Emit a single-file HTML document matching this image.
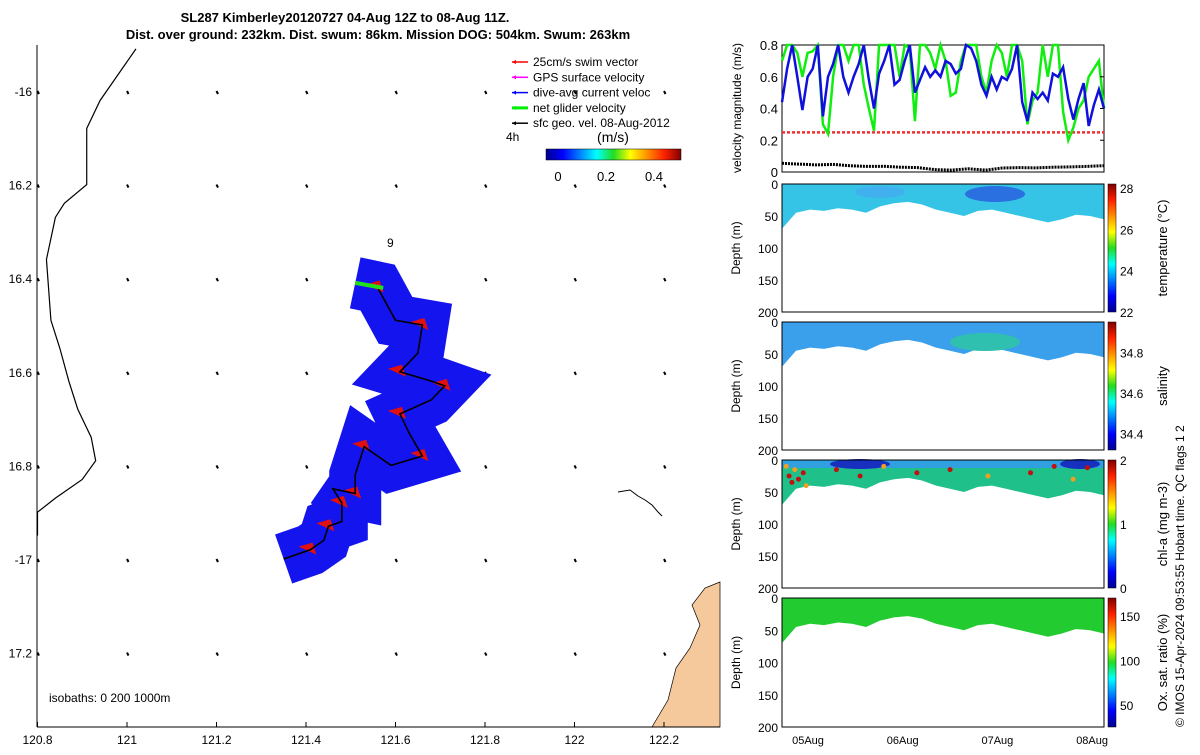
<!DOCTYPE html>
<html><head><meta charset="utf-8"><style>
body{margin:0;background:#fff;font-family:"Liberation Sans",sans-serif;}
svg text{font-family:"Liberation Sans",sans-serif;}
</style></head><body>
<svg id="c" width="1200" height="750" xmlns="http://www.w3.org/2000/svg">
<defs>
<linearGradient id="jetH" x1="0" x2="1" y1="0" y2="0"><stop offset="0" stop-color="#00008f"/><stop offset="0.125" stop-color="#0000ff"/><stop offset="0.375" stop-color="#00ffff"/><stop offset="0.5" stop-color="#22dd22"/><stop offset="0.625" stop-color="#ffff00"/><stop offset="0.875" stop-color="#ff2000"/><stop offset="1" stop-color="#800000"/></linearGradient>
<linearGradient id="jetV" x1="0" x2="0" y1="1" y2="0"><stop offset="0" stop-color="#00008f"/><stop offset="0.125" stop-color="#0000ff"/><stop offset="0.375" stop-color="#00ffff"/><stop offset="0.5" stop-color="#22dd22"/><stop offset="0.625" stop-color="#ffff00"/><stop offset="0.875" stop-color="#ff2000"/><stop offset="1" stop-color="#800000"/></linearGradient>
</defs>
<text x="345" y="22" text-anchor="middle" font-size="13" font-weight="bold">SL287 Kimberley20120727 04-Aug 12Z to 08-Aug 11Z.</text>
<text x="378" y="39" text-anchor="middle" font-size="13" font-weight="bold">Dist. over ground: 232km. Dist. swum: 86km. Mission DOG: 504km. Swum: 263km</text>
<g id="map"></g>
<g id="right"></g>
<text transform="translate(1184,727) rotate(-90)" font-size="12">© IMOS 15-Apr-2024 09:53:55 Hobart time. QC flags 1  2</text>
</svg>
<script>
// ---------- data ----------
const lonTicks=[120.8,121,121.2,121.4,121.6,121.8,122,122.2];
const latTicks=[-16,-16.2,-16.4,-16.6,-16.8,-17,-17.2];
const trackLon=[121.51,121.56,121.60,121.66,121.65,121.61,121.68,121.71,121.68,121.61,121.63,121.66,121.59,121.53,121.51,121.51,121.46,121.48,121.48,121.45,121.44,121.41,121.35];
const trackLat=[-16.41,-16.42,-16.49,-16.50,-16.56,-16.60,-16.62,-16.63,-16.66,-16.69,-16.73,-16.78,-16.80,-16.76,-16.82,-16.86,-16.85,-16.88,-16.92,-16.93,-16.96,-16.98,-17.00];
const coastLon=[121.02,120.94,120.91,120.91,120.86,120.84,120.82,120.83,120.85,120.87,120.89,120.92,120.93,120.90,120.84,120.80,120.80];
const coastLat=[-15.91,-16.02,-16.08,-16.20,-16.24,-16.27,-16.36,-16.49,-16.55,-16.62,-16.68,-16.74,-16.79,-16.83,-16.87,-16.90,-16.95];
const days=[5,6,7,8];
const dayLabels=["05Aug","06Aug","07Aug","08Aug"];
const velBlue=[0.44,0.65,0.8,0.6,0.39,0.6,0.65,0.8,0.35,0.6,0.68,0.8,0.6,0.5,0.6,0.68,0.8,0.58,0.4,0.62,0.7,0.8,0.55,0.58,0.7,0.8,0.5,0.58,0.66,0.6,0.64,0.6,0.7,0.68,0.62,0.65,0.8,0.78,0.7,0.55,0.48,0.6,0.52,0.6,0.58,0.65,0.8,0.44,0.32,0.5,0.46,0.5,0.45,0.62,0.6,0.66,0.46,0.33,0.46,0.56,0.29,0.42,0.52,0.4];
const velGreen=[0.7,0.8,0.8,0.75,0.6,0.75,0.76,0.8,0.3,0.24,0.6,0.8,0.8,0.7,0.8,0.8,0.55,0.4,0.26,0.8,0.8,0.8,0.8,0.6,0.8,0.78,0.32,0.8,0.8,0.75,0.65,0.8,0.7,0.48,0.5,0.7,0.8,0.8,0.8,0.6,0.5,0.7,0.8,0.75,0.6,0.8,0.8,0.7,0.3,0.45,0.5,0.8,0.6,0.8,0.8,0.38,0.2,0.28,0.4,0.45,0.6,0.65,0.7,0.4];
const velGeo=[0.055,0.05,0.045,0.048,0.04,0.035,0.036,0.03,0.028,0.015,0.012,0.02,0.012,0.025,0.028,0.026,0.03,0.032,0.035,0.04];
const swimSpeed=0.25;
const mldDepth=[70,45,40,42,38,40,45,35,30,28,32,40,45,50,42,40,45,50,55,60,55,48,50,55];
const panelVars=["temperature (°C)","salinity","chl-a (mg m-3)","Ox. sat. ratio (%)"];
const cbTicks=[[22,24,26,28],[34.4,34.6,34.8],[0,1,2],[50,100,150]];
const cbRange=[[22,28.2],[34.32,34.95],[0,2],[25,170]];
const chlDotT=[4.77,4.8,4.83,4.86,4.9,4.95,4.98,5.3,5.55,5.8,6.15,6.5,6.9,7.35,7.6,7.8,7.95];
const chlDotD=[10,25,35,15,30,20,40,15,25,10,20,15,25,20,10,30,12];
// ---------- helpers ----------
const NS="http://www.w3.org/2000/svg";
function mk(p,tag,a,txt){const e=document.createElementNS(NS,tag);for(const k in a)e.setAttribute(k,a[k]);if(txt!==undefined)e.textContent=txt;p.appendChild(e);return e;}
const mx=lon=>127+(lon-121)*447.5, my=lat=>91-(lat+16)*468;
const map=document.getElementById('map'), R=document.getElementById('right');
let land=mk(map,'path',{d:'M720,582 L705,588 L692,605 L700,625 L690,648 L676,668 L668,700 L652,727 L720,727 Z',fill:'#f5c99b',stroke:'#000','stroke-width':0.7});


mk(map,'path',{d:'M618,492 L630,490 L638,496 L645,500 L652,505 L658,512 L662,516',fill:'none',stroke:'#000','stroke-width':1});
let cp=coastLon.map((v,i)=>(i?'L':'M')+mx(v)+','+my(coastLat[i])).join(' ');
let coast=mk(map,'path',{d:cp,fill:'none',stroke:'#000','stroke-width':1.2});


lonTicks.forEach(lo=>latTicks.forEach(la=>{let d=mk(map,'path',{d:`M${mx(lo)},${my(la)} l1.5,3`,stroke:'#000','stroke-width':2});}));
let tp=trackLon.map((v,i)=>(i?'L':'M')+mx(v)+','+my(trackLat[i])).join(' ');
let fan=mk(map,'path',{d:tp,fill:'none',stroke:'#1414ee','stroke-width':52,'stroke-linejoin':'miter','stroke-miterlimit':2});


trackLon.forEach((v,i)=>{if(i%2==1){let r=mk(map,'path',{d:`M${mx(v)-12},${my(trackLat[i])-3} l18,8 l-4,-12 z`,fill:'#e01010'});}});
let trk=mk(map,'path',{d:tp,fill:'none',stroke:'#000','stroke-width':1.6});


let gs=mk(map,'path',{d:`M${mx(trackLon[0])},${my(trackLat[0])} l28,5`,stroke:'#20e020','stroke-width':4});


mk(map,'text',{x:387,y:247,'font-size':12},'9');
lonTicks.forEach(lo=>{let t=mk(map,'text',{x:mx(lo),y:744,'text-anchor':'middle','font-size':12},String(lo));mk(map,'line',{x1:mx(lo),x2:mx(lo),y1:727,y2:722,stroke:'#000'});});
latTicks.forEach(la=>{let t=mk(map,'text',{x:32,y:my(la)+5,'text-anchor':'end','font-size':12},(la===-16||la===-17)?String(la):String(la).slice(1));});
mk(map,'line',{x1:37,x2:720,y1:727,y2:727,stroke:'#000'});
mk(map,'line',{x1:37,x2:37,y1:45,y2:727,stroke:'#000'});
let iso=mk(map,'text',{x:49,y:702,'font-size':12},'isobaths: 0   200   1000m');


const legItems=[['25cm/s swim vector','#f00'],['GPS surface velocity','#f0f'],['dive-avg current veloc','#00f'],['net glider velocity','#0e0'],['sfc geo. vel. 08-Aug-2012','#000']];
legItems.forEach((it,i)=>{const y=62+i*15.3;let g=mk(map,'g',{});mk(g,'line',{x1:512,x2:528,y1:y,y2:y,stroke:it[1],'stroke-width':i==3?3:1.5});mk(g,'path',{d:`M512,${y} l4,-2 l0,4z`,fill:it[1]});mk(g,'text',{x:533,y:y+4,'font-size':12},it[0]);});
mk(map,'text',{x:506,y:141,'font-size':12},'4h');
mk(map,'text',{x:613,y:142,'text-anchor':'middle','font-size':14},'(m/s)');
let cb=mk(map,'rect',{x:546,y:149,width:135,height:11,fill:'url(#jetH)',stroke:'#000','stroke-width':0.5});


[[0,558],[0.2,606],[0.4,654]].forEach(t=>mk(map,'text',{x:t[1],y:181,'text-anchor':'middle','font-size':13},String(t[0])));
// ---------- right panels ----------
const X0=782,X1=1104,T0=5-(808-782)/94.7;
const tx=t=>808+(t-5)*94.7;
const panelsY=[[45,172],[184,312],[322,450],[460,588],[598,727]];
const vy=v=>172-v*158.75;
function series(arr,t0,t1){return arr.map((v,i)=>(i?'L':'M')+(tx(t0+(t1-t0)*i/(arr.length-1))).toFixed(1)+','+Math.max(45,vy(v)).toFixed(1)).join(' ');}
let vp=mk(R,'rect',{x:X0,y:45,width:X1-X0,height:127,fill:'none',stroke:'#000'});


let sl=mk(R,'line',{x1:X0,x2:X1,y1:vy(swimSpeed),y2:vy(swimSpeed),stroke:'#f03030','stroke-width':2.5,'stroke-dasharray':'3 2'});


let lg=mk(R,'path',{d:series(velGreen,T0,8.126),fill:'none',stroke:'#10ee10','stroke-width':2.5});


let lb=mk(R,'path',{d:series(velBlue,T0,8.126),fill:'none',stroke:'#1010dd','stroke-width':2.5});


let lk=mk(R,'path',{d:series(velGeo,T0,8.126),fill:'none',stroke:'#000','stroke-width':3,'stroke-dasharray':'2 1'});


[0,0.2,0.4,0.6,0.8].forEach(v=>{mk(R,'text',{x:X0-4,y:vy(v)+5,'text-anchor':'end','font-size':13},String(v));mk(R,'line',{x1:X1,x2:X1-4,y1:vy(v),y2:vy(v),stroke:'#000'});});
mk(R,'text',{transform:'translate(741,108) rotate(-90)','text-anchor':'middle','font-size':12},'velocity magnitude (m/s)');
const fills=['#35c4e6','#3aa0ec','#1fc08a','#22cc30'];
for(let p=0;p<4;p++){
 const [y0,y1]=panelsY[p+1];const h=y1-y0;const dy=d=>y0+d/200*h;
 let g=mk(R,'g',{});
 let d='M'+X0+','+y0+' '+mldDepth.map((v,i)=>'L'+(X0+(X1-X0)*i/(mldDepth.length-1)).toFixed(1)+','+dy(v).toFixed(1)).join(' ')+' L'+X1+','+y0+' Z';
 mk(g,'path',{d:d,fill:fills[p]});
 if(p==0){mk(g,'ellipse',{cx:995,cy:y0+10,rx:30,ry:8,fill:'#2a70e0'});mk(g,'ellipse',{cx:880,cy:y0+8,rx:25,ry:6,fill:'#40b0ee'});}
 if(p==1){mk(g,'ellipse',{cx:985,cy:y0+20,rx:35,ry:9,fill:'#30c0b0'});}
 if(p==2){mk(g,'rect',{x:X0,y:y0,width:X1-X0,height:8,fill:'#30a0e0'});mk(g,'ellipse',{cx:860,cy:y0+4,rx:30,ry:5,fill:'#1830c0'});mk(g,'ellipse',{cx:1080,cy:y0+4,rx:20,ry:5,fill:'#1830c0'});
  chlDotT.forEach((t,i)=>{let c=mk(g,'circle',{cx:tx(t),cy:dy(chlDotD[i]),r:2.5,fill:i%3?'#c01010':'#f0a020'});});}
 mk(g,'rect',{x:X0,y:y0,width:X1-X0,height:h,fill:'none',stroke:'#000'});
 [0,50,100,150,200].forEach(v=>mk(g,'text',{x:X0-4,y:dy(v)+5,'text-anchor':'end','font-size':12},String(v)));
 mk(g,'text',{transform:`translate(740,${(y0+y1)/2}) rotate(-90)`,'text-anchor':'middle','font-size':12},'Depth (m)');
 let cbr=mk(g,'rect',{x:1108,y:y0,width:8,height:h,fill:'url(#jetV)',stroke:'#000','stroke-width':0.5});
 
 const [a,b]=cbRange[p];
 cbTicks[p].forEach(v=>{const yy=y1-(v-a)/(b-a)*h;mk(g,'text',{x:1120,y:yy+5,'font-size':12},String(v));});
 mk(g,'text',{transform:`translate(1167,${(y0+y1)/2}) rotate(-90)`,'text-anchor':'middle','font-size':13},panelVars[p]);
}
days.forEach((d,i)=>{let t=mk(R,'text',{x:tx(d),y:744,'text-anchor':'middle','font-size':11},dayLabels[i]);});
</script>
</body></html>
